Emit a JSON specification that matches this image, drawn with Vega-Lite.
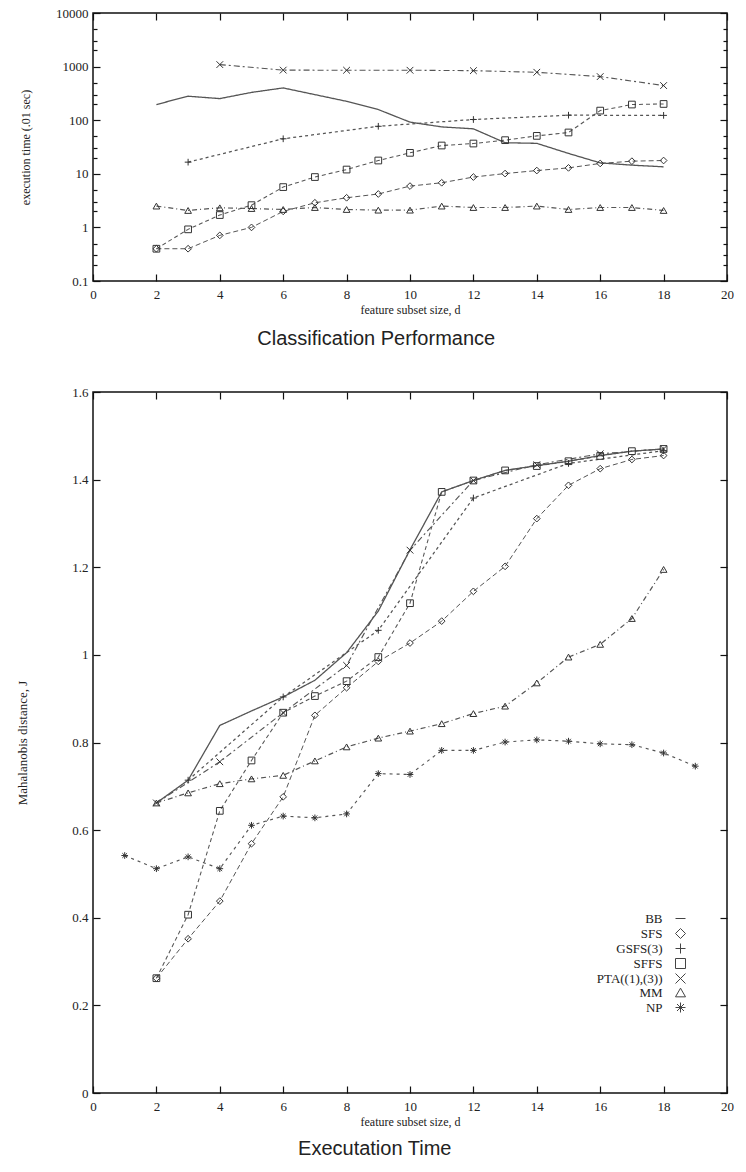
{
  "$schema": "https://vega.github.io/schema/vega-lite/v6.json",
  "background": "white",
  "padding": {"left": 15, "top": 6, "right": 0, "bottom": 0},
  "spacing": 35,
  "datasets": {
    "time": [
      {"m":"BB","d":2,"v":196},{"m":"BB","d":3,"v":280},{"m":"BB","d":4,"v":253},{"m":"BB","d":5,"v":330},{"m":"BB","d":6,"v":400},{"m":"BB","d":7,"v":300},{"m":"BB","d":8,"v":225},{"m":"BB","d":9,"v":158},{"m":"BB","d":10,"v":92},{"m":"BB","d":11,"v":75},{"m":"BB","d":12,"v":69},{"m":"BB","d":13,"v":38},{"m":"BB","d":14,"v":37},{"m":"BB","d":15,"v":24},{"m":"BB","d":16,"v":16},{"m":"BB","d":17,"v":14.5},{"m":"BB","d":18,"v":13.5},
      {"m":"SFS","d":2,"v":0.4},{"m":"SFS","d":3,"v":0.4},{"m":"SFS","d":4,"v":0.71},{"m":"SFS","d":5,"v":1.0},{"m":"SFS","d":6,"v":1.99},{"m":"SFS","d":7,"v":2.88},{"m":"SFS","d":8,"v":3.57},{"m":"SFS","d":9,"v":4.2},{"m":"SFS","d":10,"v":5.9},{"m":"SFS","d":11,"v":6.8},{"m":"SFS","d":12,"v":8.7},{"m":"SFS","d":13,"v":10.1},{"m":"SFS","d":14,"v":11.5},{"m":"SFS","d":15,"v":12.9},{"m":"SFS","d":16,"v":15.6},{"m":"SFS","d":17,"v":17.2},{"m":"SFS","d":18,"v":17.7},
      {"m":"GSFS(3)","d":3,"v":16.5},{"m":"GSFS(3)","d":6,"v":45},{"m":"GSFS(3)","d":9,"v":77},{"m":"GSFS(3)","d":12,"v":103},{"m":"GSFS(3)","d":15,"v":124},{"m":"GSFS(3)","d":18,"v":123},
      {"m":"SFFS","d":2,"v":0.4},{"m":"SFFS","d":3,"v":0.92},{"m":"SFFS","d":4,"v":1.7},{"m":"SFFS","d":5,"v":2.6},{"m":"SFFS","d":6,"v":5.65},{"m":"SFFS","d":7,"v":8.7},{"m":"SFFS","d":8,"v":12},{"m":"SFFS","d":9,"v":17.7},{"m":"SFFS","d":10,"v":24.6},{"m":"SFFS","d":11,"v":33.7},{"m":"SFFS","d":12,"v":36.7},{"m":"SFFS","d":13,"v":42.4},{"m":"SFFS","d":14,"v":51},{"m":"SFFS","d":15,"v":59},{"m":"SFFS","d":16,"v":151},{"m":"SFFS","d":17,"v":196},{"m":"SFFS","d":18,"v":201},
      {"m":"PTA((1),(3))","d":4,"v":1090},{"m":"PTA((1),(3))","d":6,"v":860},{"m":"PTA((1),(3))","d":8,"v":855},{"m":"PTA((1),(3))","d":10,"v":855},{"m":"PTA((1),(3))","d":12,"v":840},{"m":"PTA((1),(3))","d":14,"v":784},{"m":"PTA((1),(3))","d":16,"v":651},{"m":"PTA((1),(3))","d":18,"v":443},
      {"m":"MM","d":2,"v":2.5},{"m":"MM","d":3,"v":2.07},{"m":"MM","d":4,"v":2.32},{"m":"MM","d":5,"v":2.25},{"m":"MM","d":6,"v":2.16},{"m":"MM","d":7,"v":2.35},{"m":"MM","d":8,"v":2.16},{"m":"MM","d":9,"v":2.1},{"m":"MM","d":10,"v":2.1},{"m":"MM","d":11,"v":2.5},{"m":"MM","d":12,"v":2.35},{"m":"MM","d":13,"v":2.35},{"m":"MM","d":14,"v":2.5},{"m":"MM","d":15,"v":2.16},{"m":"MM","d":16,"v":2.35},{"m":"MM","d":17,"v":2.35},{"m":"MM","d":18,"v":2.07}
    ],
    "dist": [
      {"m":"BB","d":2,"v":0.662},{"m":"BB","d":3,"v":0.714},{"m":"BB","d":4,"v":0.839},{"m":"BB","d":5,"v":0.872},{"m":"BB","d":6,"v":0.904},{"m":"BB","d":7,"v":0.942},{"m":"BB","d":8,"v":1.005},{"m":"BB","d":9,"v":1.1},{"m":"BB","d":10,"v":1.24},{"m":"BB","d":11,"v":1.372},{"m":"BB","d":12,"v":1.398},{"m":"BB","d":13,"v":1.421},{"m":"BB","d":14,"v":1.432},{"m":"BB","d":15,"v":1.442},{"m":"BB","d":16,"v":1.455},{"m":"BB","d":17,"v":1.465},{"m":"BB","d":18,"v":1.47},
      {"m":"SFS","d":2,"v":0.262},{"m":"SFS","d":3,"v":0.352},{"m":"SFS","d":4,"v":0.438},{"m":"SFS","d":5,"v":0.569},{"m":"SFS","d":6,"v":0.676},{"m":"SFS","d":7,"v":0.862},{"m":"SFS","d":8,"v":0.925},{"m":"SFS","d":9,"v":0.985},{"m":"SFS","d":10,"v":1.027},{"m":"SFS","d":11,"v":1.077},{"m":"SFS","d":12,"v":1.145},{"m":"SFS","d":13,"v":1.202},{"m":"SFS","d":14,"v":1.311},{"m":"SFS","d":15,"v":1.387},{"m":"SFS","d":16,"v":1.425},{"m":"SFS","d":17,"v":1.446},{"m":"SFS","d":18,"v":1.455},
      {"m":"GSFS(3)","d":3,"v":0.714},{"m":"GSFS(3)","d":6,"v":0.904},{"m":"GSFS(3)","d":9,"v":1.056},{"m":"GSFS(3)","d":12,"v":1.358},{"m":"GSFS(3)","d":15,"v":1.437},{"m":"GSFS(3)","d":18,"v":1.466},
      {"m":"SFFS","d":2,"v":0.262},{"m":"SFFS","d":3,"v":0.407},{"m":"SFFS","d":4,"v":0.644},{"m":"SFFS","d":5,"v":0.759},{"m":"SFFS","d":6,"v":0.868},{"m":"SFFS","d":7,"v":0.906},{"m":"SFFS","d":8,"v":0.94},{"m":"SFFS","d":9,"v":0.995},{"m":"SFFS","d":10,"v":1.118},{"m":"SFFS","d":11,"v":1.372},{"m":"SFFS","d":12,"v":1.398},{"m":"SFFS","d":13,"v":1.421},{"m":"SFFS","d":14,"v":1.431},{"m":"SFFS","d":15,"v":1.442},{"m":"SFFS","d":16,"v":1.454},{"m":"SFFS","d":17,"v":1.465},{"m":"SFFS","d":18,"v":1.47},
      {"m":"PTA((1),(3))","d":2,"v":0.662},{"m":"PTA((1),(3))","d":4,"v":0.756},{"m":"PTA((1),(3))","d":6,"v":0.868},{"m":"PTA((1),(3))","d":8,"v":0.976},{"m":"PTA((1),(3))","d":10,"v":1.239},{"m":"PTA((1),(3))","d":12,"v":1.398},{"m":"PTA((1),(3))","d":14,"v":1.434},{"m":"PTA((1),(3))","d":16,"v":1.459},{"m":"PTA((1),(3))","d":18,"v":1.47},
      {"m":"MM","d":2,"v":0.662},{"m":"MM","d":3,"v":0.685},{"m":"MM","d":4,"v":0.706},{"m":"MM","d":5,"v":0.717},{"m":"MM","d":6,"v":0.725},{"m":"MM","d":7,"v":0.758},{"m":"MM","d":8,"v":0.79},{"m":"MM","d":9,"v":0.81},{"m":"MM","d":10,"v":0.826},{"m":"MM","d":11,"v":0.843},{"m":"MM","d":12,"v":0.866},{"m":"MM","d":13,"v":0.883},{"m":"MM","d":14,"v":0.936},{"m":"MM","d":15,"v":0.995},{"m":"MM","d":16,"v":1.024},{"m":"MM","d":17,"v":1.083},{"m":"MM","d":18,"v":1.195},
      {"m":"NP","d":1,"v":0.542},{"m":"NP","d":2,"v":0.512},{"m":"NP","d":3,"v":0.539},{"m":"NP","d":4,"v":0.512},{"m":"NP","d":5,"v":0.611},{"m":"NP","d":6,"v":0.632},{"m":"NP","d":7,"v":0.628},{"m":"NP","d":8,"v":0.637},{"m":"NP","d":9,"v":0.729},{"m":"NP","d":10,"v":0.727},{"m":"NP","d":11,"v":0.782},{"m":"NP","d":12,"v":0.782},{"m":"NP","d":13,"v":0.801},{"m":"NP","d":14,"v":0.806},{"m":"NP","d":15,"v":0.803},{"m":"NP","d":16,"v":0.797},{"m":"NP","d":17,"v":0.795},{"m":"NP","d":18,"v":0.776},{"m":"NP","d":19,"v":0.746}
    ]
  },
  "config": {
    "view": {"stroke": "#111", "strokeWidth": 1.5},
    "axis": {
      "grid": false, "domain": false, "ticks": true, "tickSize": -7, "tickColor": "#111", "tickWidth": 1.2,
      "labelFont": "Liberation Serif", "labelFontSize": 13, "labelColor": "#222", "labelFlush": false, "labelOverlap": false,
      "titleFont": "Liberation Serif", "titleFontSize": 12, "titleFontWeight": "normal", "titleColor": "#222", "titlePadding": 3
    },
    "axisX": {"labelPadding": 14},
    "axisY": {"labelPadding": 12},
    "title": {"font": "Liberation Sans", "fontSize": 20, "fontWeight": "normal", "color": "#222"}
  },
  "resolve": {"legend": {"shape": "independent", "strokeDash": "independent", "strokeWidth": "independent"}},
  "vconcat": [
    {
      "width": 634, "height": 268,
      "data": {"name": "time"},
      "title": {"text": "Classification Performance", "orient": "bottom", "anchor": "middle", "frame": "bounds", "offset": 14},
      "layer": [
        {
          "mark": {"type": "line", "color": "#555"},
          "encoding": {
            "x": {"field": "d", "type": "quantitative", "scale": {"domain": [0, 20], "nice": false, "zero": false},
                  "axis": {"orient": "bottom", "values": [0,2,4,6,8,10,12,14,16,18,20], "title": "feature subset size, d"}},
            "y": {"field": "v", "type": "quantitative", "scale": {"type": "log", "domain": [0.1, 10000], "nice": false},
                  "axis": {"orient": "left", "values": [0.1,1,10,100,1000,10000], "format": "~g", "title": "execution time (.01 sec)", "titleX": -68, "titleBaseline": "middle"}},
            "strokeDash": {"field": "m", "type": "nominal", "legend": null,
              "scale": {"range": [[1,0],[3,3],[5,3,1,3],[3,4],[6,3,2,3],[4,3],[5,3]]}},
            "strokeWidth": {"field": "m", "type": "nominal", "legend": null,
              "scale": {"range": [1.3,1,1,1,1,1,1]}}
          }
        },
        {
          "transform": [{"filter": "datum.m !== 'BB'"}],
          "mark": {"type": "point", "filled": false, "color": "#333", "size": 45, "strokeWidth": 1, "opacity": 1},
          "encoding": {
            "x": {"field": "d", "type": "quantitative", "axis": {"orient": "top", "values": [0,2,4,6,8,10,12,14,16,18,20], "labels": false, "title": null}},
            "y": {"field": "v", "type": "quantitative", "axis": {"orient": "right", "values": [0.1,1,10,100,1000,10000], "labels": false, "title": null}},
            "shape": {"field": "m", "type": "nominal", "legend": null,
              "scale": {"domain": ["BB","SFS","GSFS(3)","SFFS","PTA((1),(3))","MM","NP"],
                        "range": ["M-1,0H1","M0,-1L1,0L0,1L-1,0Z","M-1,0H1M0,-1V1","square","M-1,-1L1,1M-1,1L1,-1","triangle-up","M-1,0H1M0,-1V1M-0.7,-0.7L0.7,0.7M-0.7,0.7L0.7,-0.7"]}}
          }
        },
        {
          "mark": {"type": "point", "opacity": 0},
          "encoding": {
            "x": {"field": "d", "type": "quantitative", "axis": null},
            "y": {"field": "v", "type": "quantitative", "axis": {"orient": "left", "values": [0.2,0.3,0.5,2,3,5,20,30,50,200,300,500,2000,3000,5000], "labels": false, "title": null, "tickSize": -4}}
          }
        },
        {
          "mark": {"type": "point", "opacity": 0},
          "encoding": {
            "x": {"field": "d", "type": "quantitative", "axis": null},
            "y": {"field": "v", "type": "quantitative", "axis": {"orient": "right", "values": [0.2,0.3,0.5,2,3,5,20,30,50,200,300,500,2000,3000,5000], "labels": false, "title": null, "tickSize": -4}}
          }
        }
      ],
      "resolve": {"axis": {"x": "independent", "y": "independent"}}
    },
    {
      "width": 634, "height": 701,
      "data": {"name": "dist"},
      "title": {"text": "Executation Time", "orient": "bottom", "anchor": "middle", "frame": "bounds", "offset": 12},
      "layer": [
        {
          "mark": {"type": "line", "color": "#555"},
          "encoding": {
            "x": {"field": "d", "type": "quantitative", "scale": {"domain": [0, 20], "nice": false, "zero": false},
                  "axis": {"orient": "bottom", "values": [0,2,4,6,8,10,12,14,16,18,20], "title": "feature subset size, d"}},
            "y": {"field": "v", "type": "quantitative", "scale": {"domain": [0, 1.6], "nice": false},
                  "axis": {"orient": "left", "values": [0,0.2,0.4,0.6,0.8,1,1.2,1.4,1.6], "format": "~g", "title": "Mahalanobis distance, J", "titleX": -71, "titleBaseline": "middle", "titleFontSize": 13}},
            "strokeDash": {"field": "m", "type": "nominal", "legend": null,
              "scale": {"range": [[1,0],[3,3],[5,3,1,3],[3,4],[6,3,2,3],[4,3],[5,3]]}},
            "strokeWidth": {"field": "m", "type": "nominal", "legend": null,
              "scale": {"range": [1.3,1,1,1,1,1,1]}}
          }
        },
        {
          "transform": [{"filter": "datum.m !== 'BB'"}],
          "mark": {"type": "point", "filled": false, "color": "#333", "size": 45, "strokeWidth": 1, "opacity": 1},
          "encoding": {
            "x": {"field": "d", "type": "quantitative", "axis": {"orient": "top", "values": [0,2,4,6,8,10,12,14,16,18,20], "labels": false, "title": null}},
            "y": {"field": "v", "type": "quantitative", "axis": {"orient": "right", "values": [0,0.2,0.4,0.6,0.8,1,1.2,1.4,1.6], "labels": false, "title": null}},
            "shape": {"field": "m", "type": "nominal",
              "scale": {"domain": ["BB","SFS","GSFS(3)","SFFS","PTA((1),(3))","MM","NP"],
                        "range": ["M-1,0H1","M0,-1L1,0L0,1L-1,0Z","M-1,0H1M0,-1V1","square","M-1,-1L1,1M-1,1L1,-1","triangle-up","M-1,0H1M0,-1V1M-0.7,-0.7L0.7,0.7M-0.7,0.7L0.7,-0.7"]},
              "legend": {
                "orient": "none", "legendX": 581, "legendY": 520, "title": null,
                "symbolSize": 100, "rowPadding": 0, "symbolStrokeColor": "#444", "symbolStrokeWidth": 1,
                "labelAlign": "right", "labelOffset": -24.5, "labelFont": "Liberation Serif", "labelFontSize": 13, "labelColor": "#222"
              }
            }
          }
        }
      ],
      "resolve": {"axis": {"x": "independent", "y": "independent"}}
    }
  ]
}
